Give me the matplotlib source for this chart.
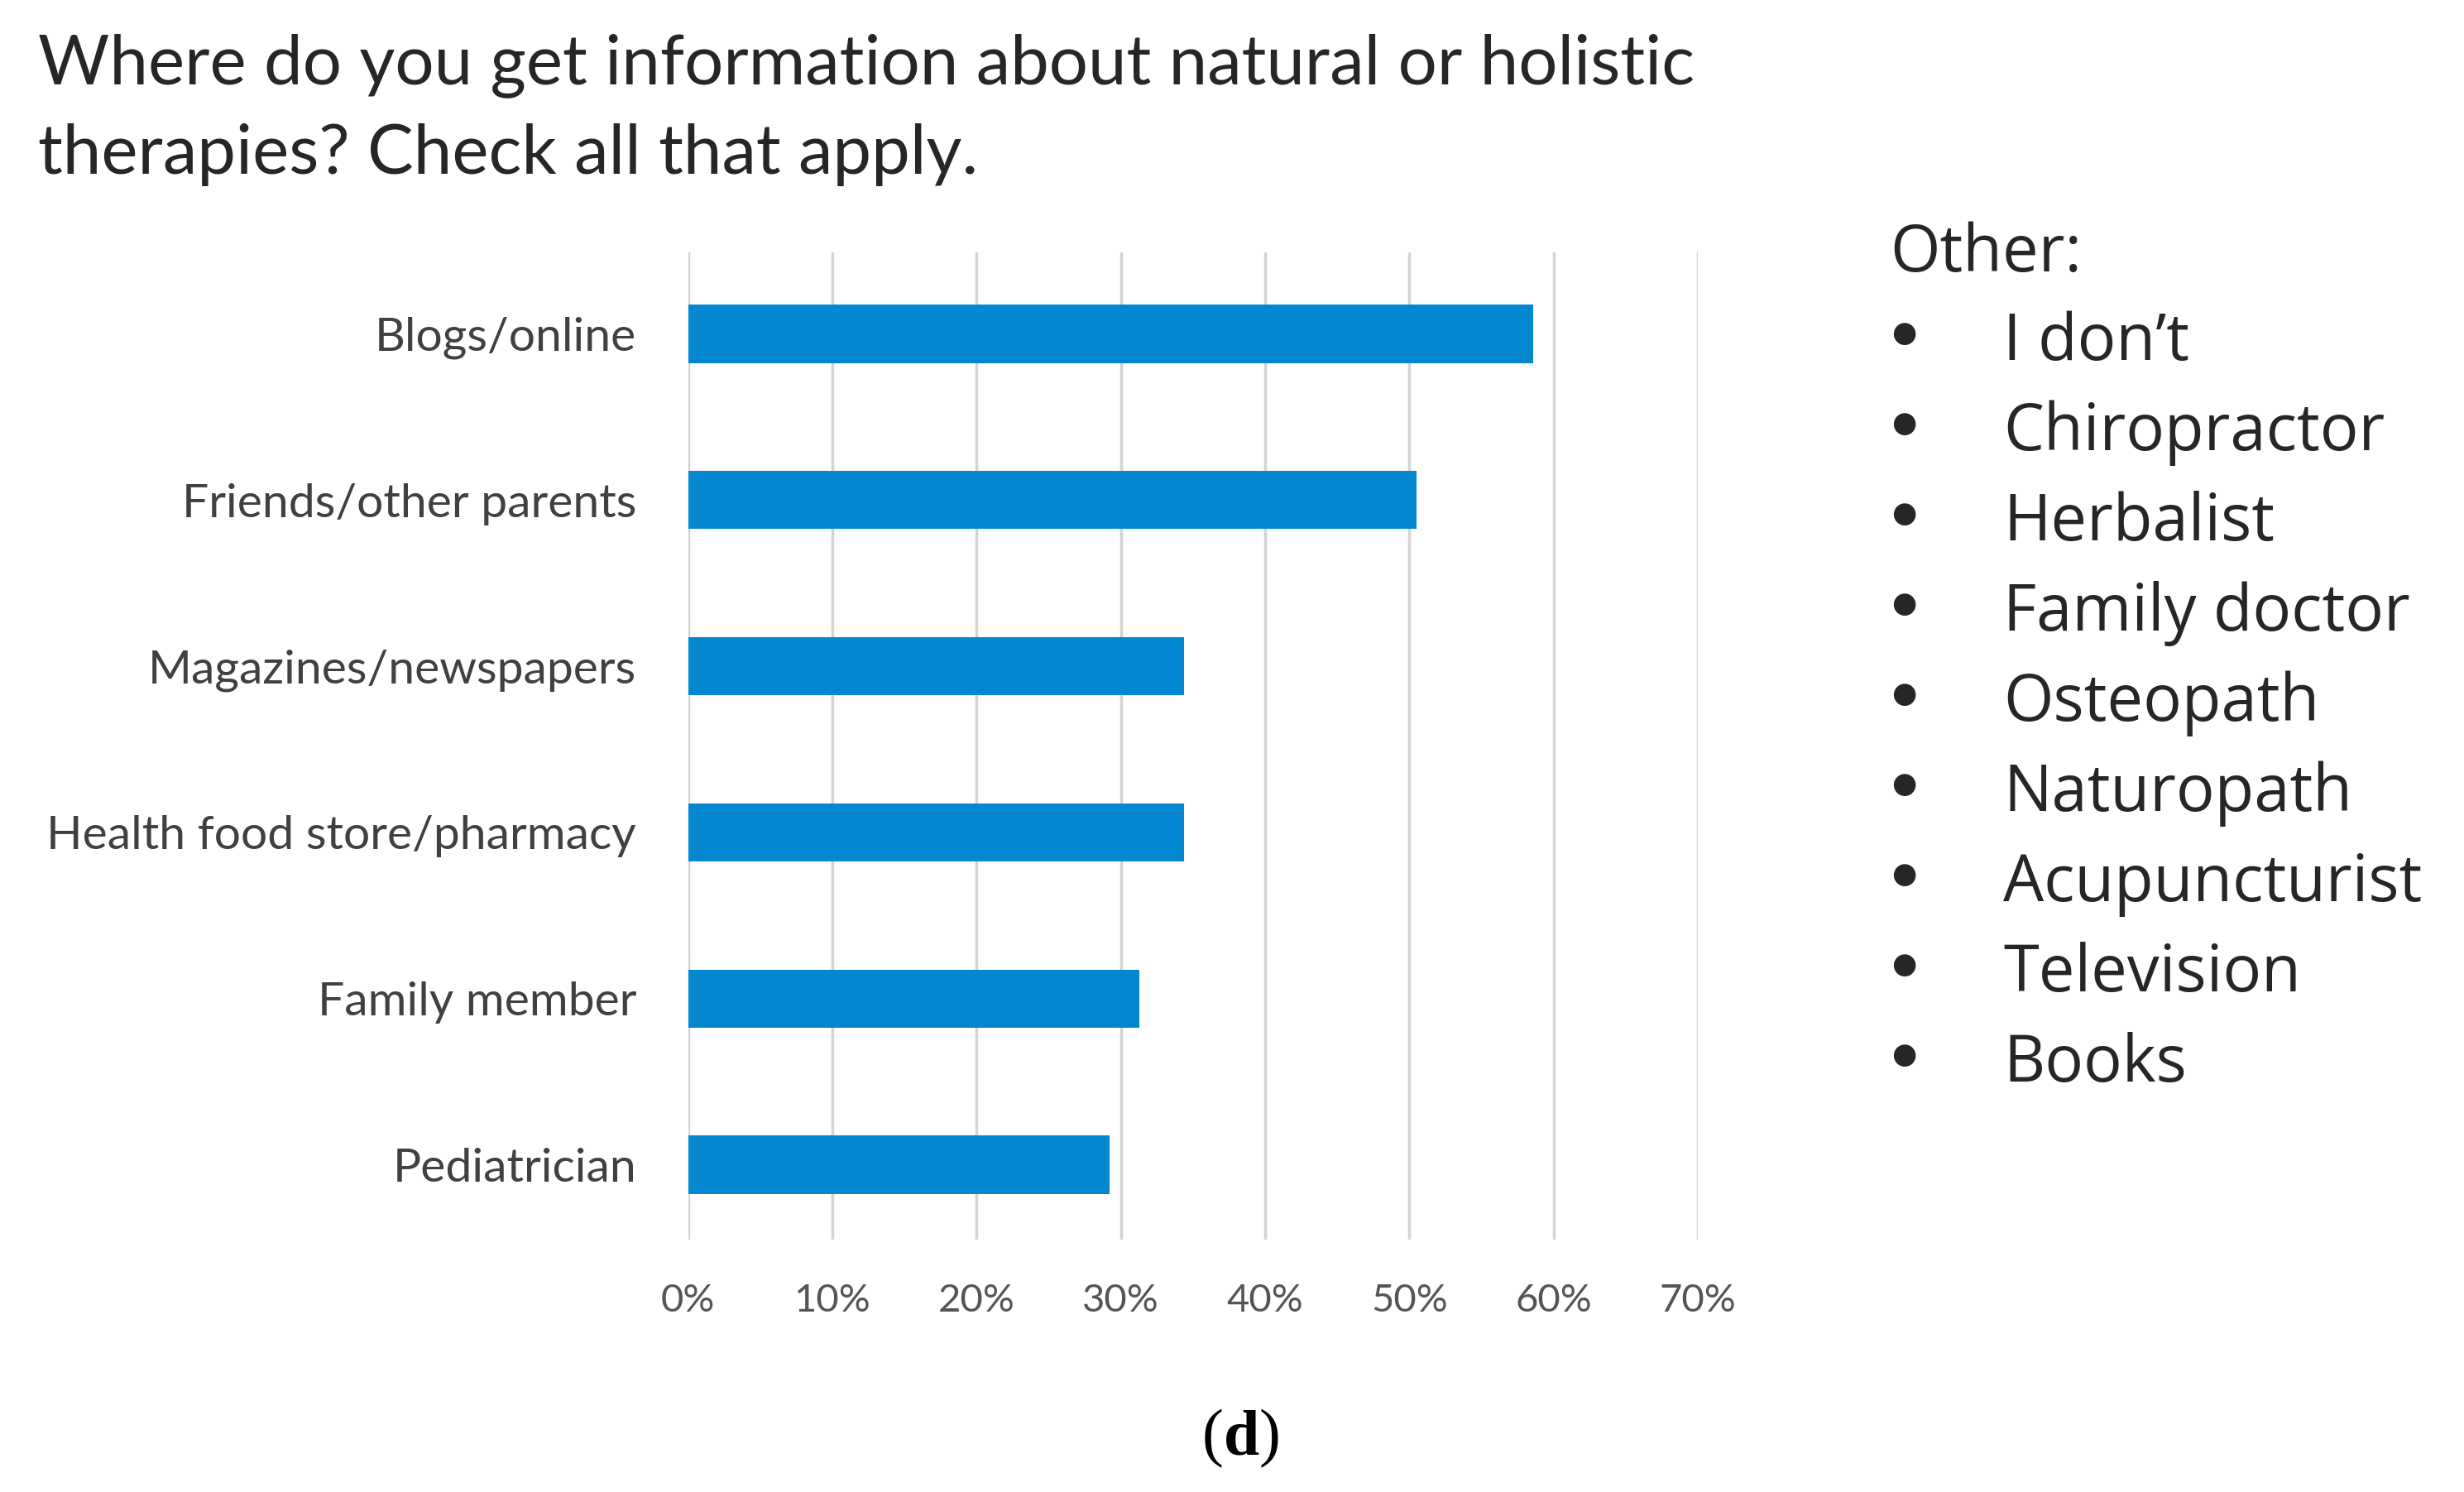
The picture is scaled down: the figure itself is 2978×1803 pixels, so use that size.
import numpy as np
import matplotlib
matplotlib.use("Agg")
from matplotlib import pyplot as plt

# data
categories = ['Blogs/online', 'Friends/other parents', 'Magazines/newspapers',
              'Health food store/pharmacy', 'Family member', 'Pediatrician']
shares = [58.6, 50.5, 34.4, 34.4, 31.3, 29.2]
x_ticks = [0, 10, 20, 30, 40, 50, 60, 70]
other_sources = ['I don\u2019t', 'Chiropractor', 'Herbalist', 'Family doctor',
                 'Osteopath', 'Naturopath', 'Acupuncturist', 'Television', 'Books']
title_lines = ['Where do you get information about natural or holistic',
               'therapies? Check all that apply.']

W, H = 2978, 1803
fig = plt.figure(figsize=(W / 100, H / 100), dpi=100)
ax = fig.add_axes([831.5 / W, 1 - 1498 / H, (2052 - 831.5) / W, (1498 - 305) / H])

y = np.arange(len(categories))
ax.barh(y, shares, height=0.35, color='#0387D0', zorder=3)
ax.set_xlim(0, 70)
ax.set_ylim(5.45, -0.49)

ax.set_xticks(x_ticks)
ax.set_xticklabels(['%d%%' % t for t in x_ticks])
ax.set_yticks(y)
ax.set_yticklabels(categories)
ax.tick_params(axis='x', length=0, pad=38, labelsize=34, labelcolor='#555555')
ax.tick_params(axis='y', length=0, pad=45, labelsize=41, labelcolor='#404040')
for lbl in ax.get_xticklabels() + ax.get_yticklabels():
    lbl.set_family('Lato')

ax.grid(axis='x', color='#d4d4d4', linewidth=2.5, zorder=0)
for s in ax.spines.values():
    s.set_visible(False)

# title, one line at a time
for i, line in enumerate(title_lines):
    fig.text(46 / W, 1 - (101 + i * 109) / H, line, ha='left', va='baseline',
             fontsize=60, family='Lato', color='#262626')

# "Other" list on the right
fig.text(2284 / W, 1 - 328 / H, 'Other:', ha='left', va='baseline', fontsize=56,
         family='Open Sans', color='#262626')
for i, item in enumerate(other_sources):
    base = 435 + i * 109
    fig.text(2301 / W, 1 - (base - 32) / H, '\u25cf', ha='center', va='center',
             fontsize=25, family='DejaVu Sans', color='#262626')
    fig.text(2421 / W, 1 - base / H, item, ha='left', va='baseline', fontsize=56,
             family='Open Sans', color='#262626')

# panel letter: regular parentheses around a bold d
yb = 1 - 1757 / H
d = fig.text(1500 / W, yb, 'd', ha='center', va='baseline', fontsize=56,
             family='Liberation Serif', weight='bold', color='black')
bb = d.get_window_extent(renderer=fig.canvas.get_renderer())
fig.text(bb.x0 / W, yb, '(', ha='right', va='baseline', fontsize=56,
         family='Liberation Serif', color='black')
fig.text(bb.x1 / W, yb, ')', ha='left', va='baseline', fontsize=56,
         family='Liberation Serif', color='black')

plt.savefig('out.png', dpi=100)
plt.close()
